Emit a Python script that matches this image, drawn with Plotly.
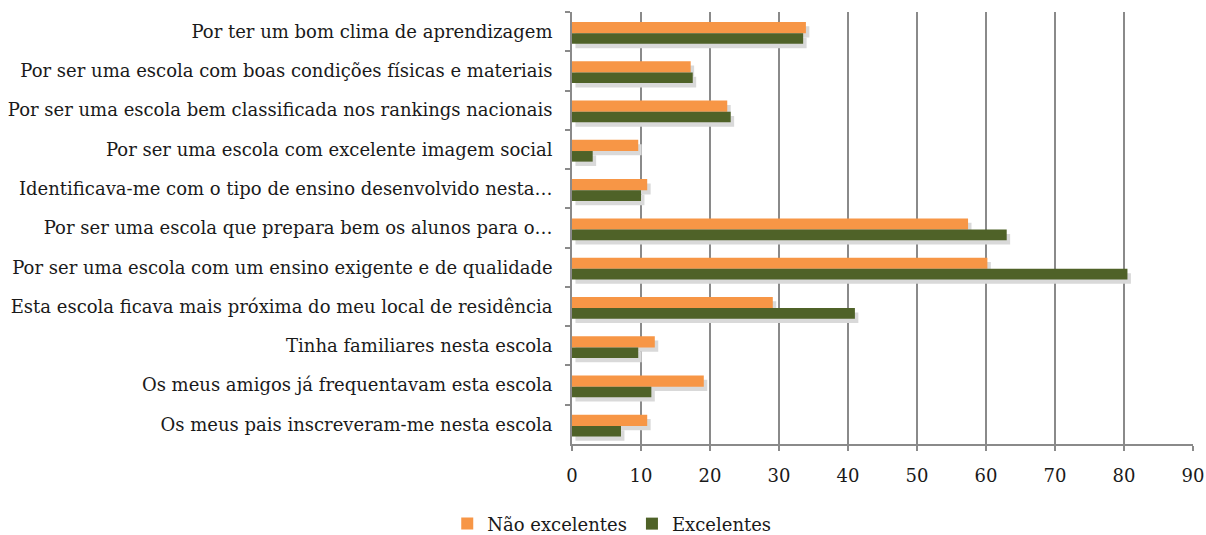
import plotly.graph_objects as go

categories = [
    "Por ter um bom clima de aprendizagem",
    "Por ser uma escola com boas condições físicas e materiais",
    "Por ser uma escola bem classificada nos rankings nacionais",
    "Por ser uma escola com excelente imagem social",
    "Identificava-me com o tipo de ensino desenvolvido nesta…",
    "Por ser uma escola que prepara bem os alunos para o…",
    "Por ser uma escola com um ensino exigente e de qualidade",
    "Esta escola ficava mais próxima do meu local de residência",
    "Tinha familiares nesta escola",
    "Os meus amigos já frequentavam esta escola",
    "Os meus pais inscreveram-me nesta escola",
]
nao_excelentes = [33.9, 17.2, 22.5, 9.6, 10.9, 57.4, 60.2, 29.1, 12.0, 19.1, 10.9]
excelentes = [33.5, 17.5, 23.0, 3.0, 10.0, 63.0, 80.5, 41.0, 9.6, 11.5, 7.1]
x_ticks = [0, 10, 20, 30, 40, 50, 60, 70, 80, 90]

FONT = "DejaVu Serif"
GRID = "#8a8a8a"
SHADOW = "#d9d9d9"

series = [
    ("Não excelentes", nao_excelentes, "#F79646", -0.245, 0.285),
    ("Excelentes", excelentes, "#4F6228", 0.04, 0.27),
]

fig = go.Figure()
# soft drop shadows (drawn first, under the bars)
for name, vals, color, off, w in series:
    fig.add_trace(go.Bar(y=categories, x=vals, base=0.5, orientation="h",
                         offset=off + 0.11, width=w, showlegend=False, hoverinfo="skip",
                         marker=dict(color=SHADOW, line=dict(width=0))))
for name, vals, color, off, w in series:
    fig.add_trace(go.Bar(y=categories, x=vals, orientation="h", name=name,
                         offset=off, width=w,
                         marker=dict(color=color, line=dict(width=0))))

fig.update_layout(
    width=1206, height=535,
    margin=dict(l=572, r=13, t=12, b=91, autoexpand=False),
    paper_bgcolor="white", plot_bgcolor="white",
    barmode="overlay",
    font=dict(family=FONT, size=18, color="#1a1a1a"),
    showlegend=True,
    legend=dict(orientation="h", x=0.064, xanchor="center", y=-0.185, yanchor="middle",
                font=dict(family=FONT, size=18), traceorder="normal",
                itemwidth=30, itemsizing="constant"),
)
fig.update_xaxes(range=[0, 90], tickvals=x_ticks, ticktext=[str(v) for v in x_ticks],
                 showgrid=True, gridcolor=GRID, gridwidth=1.6,
                 showline=True, linecolor=GRID, linewidth=1.6,
                 ticks="outside", ticklen=5, tickcolor=GRID, tickwidth=1.6,
                 zeroline=False, tickfont=dict(family=FONT, size=18), automargin=False,
                 ticklabelstandoff=10, layer="below traces")
fig.update_yaxes(autorange="reversed", type="category",
                 showgrid=False, showline=True, linecolor=GRID, linewidth=1.6,
                 ticks="outside", ticklen=5, tickcolor=GRID, tickwidth=1.6,
                 tickson="boundaries", tickfont=dict(family=FONT, size=18),
                 ticklabelstandoff=14, automargin=False)

fig.write_html("out.html", config={"displayModeBar": False},
               post_script="document.body.style.margin='0';")
